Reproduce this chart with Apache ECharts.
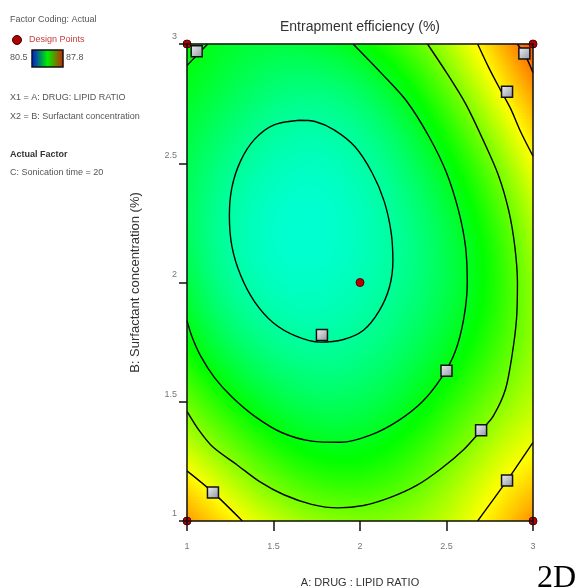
<!DOCTYPE html>
<html>
<head>
<meta charset="utf-8">
<script src="https://cdn.jsdelivr.net/npm/echarts@6/dist/echarts.min.js"></script>
<style>
  html, body { margin: 0; padding: 0; background: #fff; }
  #chart { width: 578px; height: 588px; }
</style>
</head>
<body>
<div id="chart"></div>
<script>
// factor levels, actual units
const drugLipid = [1, 1.5, 2, 2.5, 3]
const surfactant = [1, 1.5, 2, 2.5, 3]

// predicted entrapment efficiency (%)
// rows follow surfactant (bottom to top), columns follow drug:lipid
const efficiency = [
  [86.8, 85.6, 85.1, 85.55, 86.9],
  [84.9, 83.75, 83.55, 84.35, 85.5],
  [83.7, 82.8, 82.87, 83.6, 85.2],
  [83.6, 82.87, 82.95, 84.02, 85.93],
  [84.15, 83.7, 84.08, 85.38, 87.4]
]
const colorRange = [80.5, 87.8]

// contour lines as [A, B] points
const contour83 = [[1.65, 2.68], [1.50, 2.66], [1.39, 2.60], [1.31, 2.51], [1.26, 2.40], [1.245, 2.28], [1.26, 2.15], [1.31, 2.03], [1.39, 1.92], [1.50, 1.83], [1.63, 1.775], [1.77, 1.75], [1.90, 1.76], [2.02, 1.80], [2.11, 1.88], [2.17, 1.98], [2.19, 2.09], [2.18, 2.21], [2.14, 2.34], [2.07, 2.46], [1.97, 2.57], [1.85, 2.64], [1.74, 2.675], [1.65, 2.68]]
const contour84 = [[1.96, 3], [2.12, 2.88], [2.27, 2.76], [2.40, 2.61], [2.50, 2.46], [2.57, 2.30], [2.61, 2.15], [2.62, 2.00], [2.60, 1.85], [2.55, 1.71], [2.47, 1.60], [2.36, 1.50], [2.22, 1.42], [2.06, 1.36], [1.89, 1.33], [1.72, 1.335], [1.55, 1.37], [1.39, 1.44], [1.26, 1.52], [1.16, 1.60], [1.08, 1.69], [1.03, 1.77], [1, 1.84]]
const contour84Corner = [[1, 2.91], [1.06, 2.955], [1.12, 3]]
const contour85 = [[2.39, 3], [2.50, 2.88], [2.61, 2.75], [2.71, 2.60], [2.80, 2.45], [2.86, 2.30], [2.895, 2.15], [2.91, 2.00], [2.905, 1.85], [2.88, 1.70], [2.84, 1.55], [2.77, 1.44], [2.70, 1.38], [2.60, 1.30], [2.47, 1.22], [2.33, 1.15], [2.18, 1.10], [2.02, 1.065], [1.87, 1.055], [1.72, 1.07], [1.56, 1.11], [1.42, 1.165], [1.29, 1.235], [1.15, 1.31], [1.07, 1.38], [1, 1.46]]
const contour86Top = [[2.68, 3], [2.745, 2.90], [2.81, 2.81], [2.87, 2.73], [2.93, 2.63], [3, 2.53]]
const contour86Right = [[2.68, 1], [2.85, 1.17], [3, 1.33]]
const contour86Left = [[1, 1.21], [1.15, 1.12], [1.32, 1]]
const contour87 = [[2.91, 3], [2.96, 2.945], [3, 2.88]]

// design points
const runPoints = [[1.056, 2.97], [2.95, 2.96], [2.85, 2.80], [1.78, 1.78], [2.5, 1.63], [2.7, 1.38], [2.85, 1.17], [1.15, 1.12]]
const designPoints = [[1, 1], [1, 3], [3, 1], [3, 3], [2, 2]]

const FONT = "'Liberation Sans Narrow', 'Liberation Sans', sans-serif"
// 2px x 3px cells so the heatmap sits exactly on the 346 x 477 plot
const CELLS_X = 173
const CELLS_Y = 159

// smooth surface through the read grid
function lagrange (vals, t) {
  let s = 0
  for (let i = 0; i < vals.length; i++) {
    let w = 1
    for (let j = 0; j < vals.length; j++) {
      if (j !== i) w *= (t - j) / (i - j)
    }
    s += w * vals[i]
  }
  return s
}

function surface (a, b) {
  const tx = (a - drugLipid[0]) / (drugLipid[1] - drugLipid[0])
  const ty = (b - surfactant[0]) / (surfactant[1] - surfactant[0])
  const col = efficiency.map((row) => lagrange(row, tx))
  return lagrange(col, ty)
}

const aMin = drugLipid[0], aMax = drugLipid[drugLipid.length - 1]
const bMin = surfactant[0], bMax = surfactant[surfactant.length - 1]
const xIdx = [], yIdx = []
for (let i = 0; i < CELLS_X; i++) xIdx.push(i)
for (let j = 0; j < CELLS_Y; j++) yIdx.push(j)
const heat = []
for (let i = 0; i < CELLS_X; i++) {
  for (let j = 0; j < CELLS_Y; j++) {
    const a = aMin + (i + 0.5) / CELLS_X * (aMax - aMin)
    const b = bMin + (j + 0.5) / CELLS_Y * (bMax - bMin)
    heat.push([i, j, surface(a, b)])
  }
}

const contours = [contour83, contour84, contour84Corner, contour85, contour86Top, contour86Right, contour86Left, contour87]

const chart = echarts.init(document.getElementById('chart'))

const legendText = (x, y, text, extra) => ({
  type: 'text', x, y, silent: true,
  style: Object.assign({ text, fill: '#555', fontSize: 9, fontFamily: FONT, verticalAlign: 'middle' }, extra || {})
})

chart.setOption({
  animation: false,
  grid: { left: 187, top: 44, width: 346, height: 477, outerBoundsMode: 'none', containLabel: false },
  visualMap: {
    show: false, seriesIndex: 0, dimension: 2,
    min: colorRange[0], max: colorRange[1],
    inRange: { color: ['#0000ff', '#00ffff', '#00ff00', '#ffff00', '#ff2000'] }
  },
  xAxis: [{
    type: 'value', min: aMin, max: aMax, interval: 0.5, z: 10,
    name: 'A: DRUG : LIPID RATIO', nameLocation: 'middle', nameGap: 56,
    nameTextStyle: { fontSize: 11, color: '#333', fontFamily: FONT },
    axisLine: { lineStyle: { color: '#111', width: 1.5 } },
    axisTick: { length: 10, lineStyle: { color: '#111', width: 1.5 } },
    axisLabel: { fontSize: 9, color: '#777', margin: 21, fontFamily: FONT },
    splitLine: { show: false }
  }, {
    type: 'category', data: xIdx, position: 'top', z: 10,
    axisLine: { lineStyle: { color: '#111', width: 1.5 } },
    axisTick: { show: false }, axisLabel: { show: false }, splitLine: { show: false }
  }],
  yAxis: [{
    type: 'value', min: bMin, max: bMax, interval: 0.5, z: 10,
    name: 'B: Surfactant concentration (%)', nameLocation: 'middle', nameGap: 45, nameRotate: 90,
    nameTextStyle: { fontSize: 13, color: '#333', fontFamily: FONT },
    axisLine: { lineStyle: { color: '#111', width: 1.5 } },
    axisTick: { length: 8, lineStyle: { color: '#111', width: 1.5 } },
    axisLabel: { fontSize: 9, color: '#777', margin: 10, fontFamily: FONT, verticalAlign: 'bottom', padding: [0, 0, 3, 0] },
    splitLine: { show: false }
  }, {
    type: 'category', data: yIdx, position: 'right', z: 10,
    axisLine: { lineStyle: { color: '#111', width: 1.5 } },
    axisTick: { show: false }, axisLabel: { show: false }, splitLine: { show: false }
  }],
  series: [{
    type: 'heatmap', xAxisIndex: 1, yAxisIndex: 1, data: heat,
    progressive: 0, z: 1, emphasis: { disabled: true }
  }].concat(contours.map((pts) => ({
    type: 'line', xAxisIndex: 0, yAxisIndex: 0, data: pts, smooth: 0.3,
    symbol: 'none', z: 3, silent: true,
    lineStyle: { color: '#000', width: 1.4 }
  }))).concat([{
    type: 'scatter', xAxisIndex: 0, yAxisIndex: 0, data: runPoints, z: 4, clip: false,
    symbol: 'rect', symbolSize: 11,
    itemStyle: {
      color: new echarts.graphic.LinearGradient(0, 0, 1, 1, [
        { offset: 0, color: '#f4f4f4' }, { offset: 1, color: '#8c93a0' }
      ]),
      borderColor: '#111', borderWidth: 1.5, opacity: 1
    }
  }, {
    type: 'scatter', xAxisIndex: 0, yAxisIndex: 0, data: designPoints, z: 5, clip: false,
    symbol: 'circle', symbolSize: 8,
    itemStyle: { color: '#b80000', borderColor: '#500', borderWidth: 1, opacity: 1 }
  }]),
  graphic: [
    {
      type: 'text', x: 360, y: 27, silent: true,
      style: { text: 'Entrapment efficiency (%)', fill: '#333', fontSize: 14, fontFamily: FONT, align: 'center', verticalAlign: 'middle' }
    },
    legendText(10, 20, 'Factor Coding: Actual'),
    { type: 'circle', shape: { cx: 17, cy: 40, r: 4.5 }, style: { fill: '#b00000', stroke: '#400', lineWidth: 1 }, silent: true },
    legendText(29, 40, 'Design Points', { fill: '#c84040' }),
    legendText(10, 58, String(colorRange[0])),
    {
      type: 'rect', shape: { x: 32, y: 50, width: 31, height: 17 }, silent: true,
      style: {
        fill: new echarts.graphic.LinearGradient(0, 0, 1, 0, [
          { offset: 0, color: '#0010e0' }, { offset: 0.5, color: '#00ee00' }, { offset: 1, color: '#d02000' }
        ]),
        stroke: '#111', lineWidth: 1.5
      }
    },
    legendText(66, 58, String(colorRange[1])),
    legendText(10, 98, 'X1 = A: DRUG: LIPID RATIO'),
    legendText(10, 117, 'X2 = B: Surfactant concentration'),
    legendText(10, 155, 'Actual Factor', { fontWeight: 'bold', fill: '#333' }),
    legendText(10, 173, 'C: Sonication time = 20'),
    {
      type: 'text', x: 537, y: 595, silent: true,
      style: { text: '2D', fill: '#000', fontSize: 32, fontFamily: "'Liberation Serif', serif", verticalAlign: 'bottom' }
    }
  ]
})
</script>
</body>
</html>
